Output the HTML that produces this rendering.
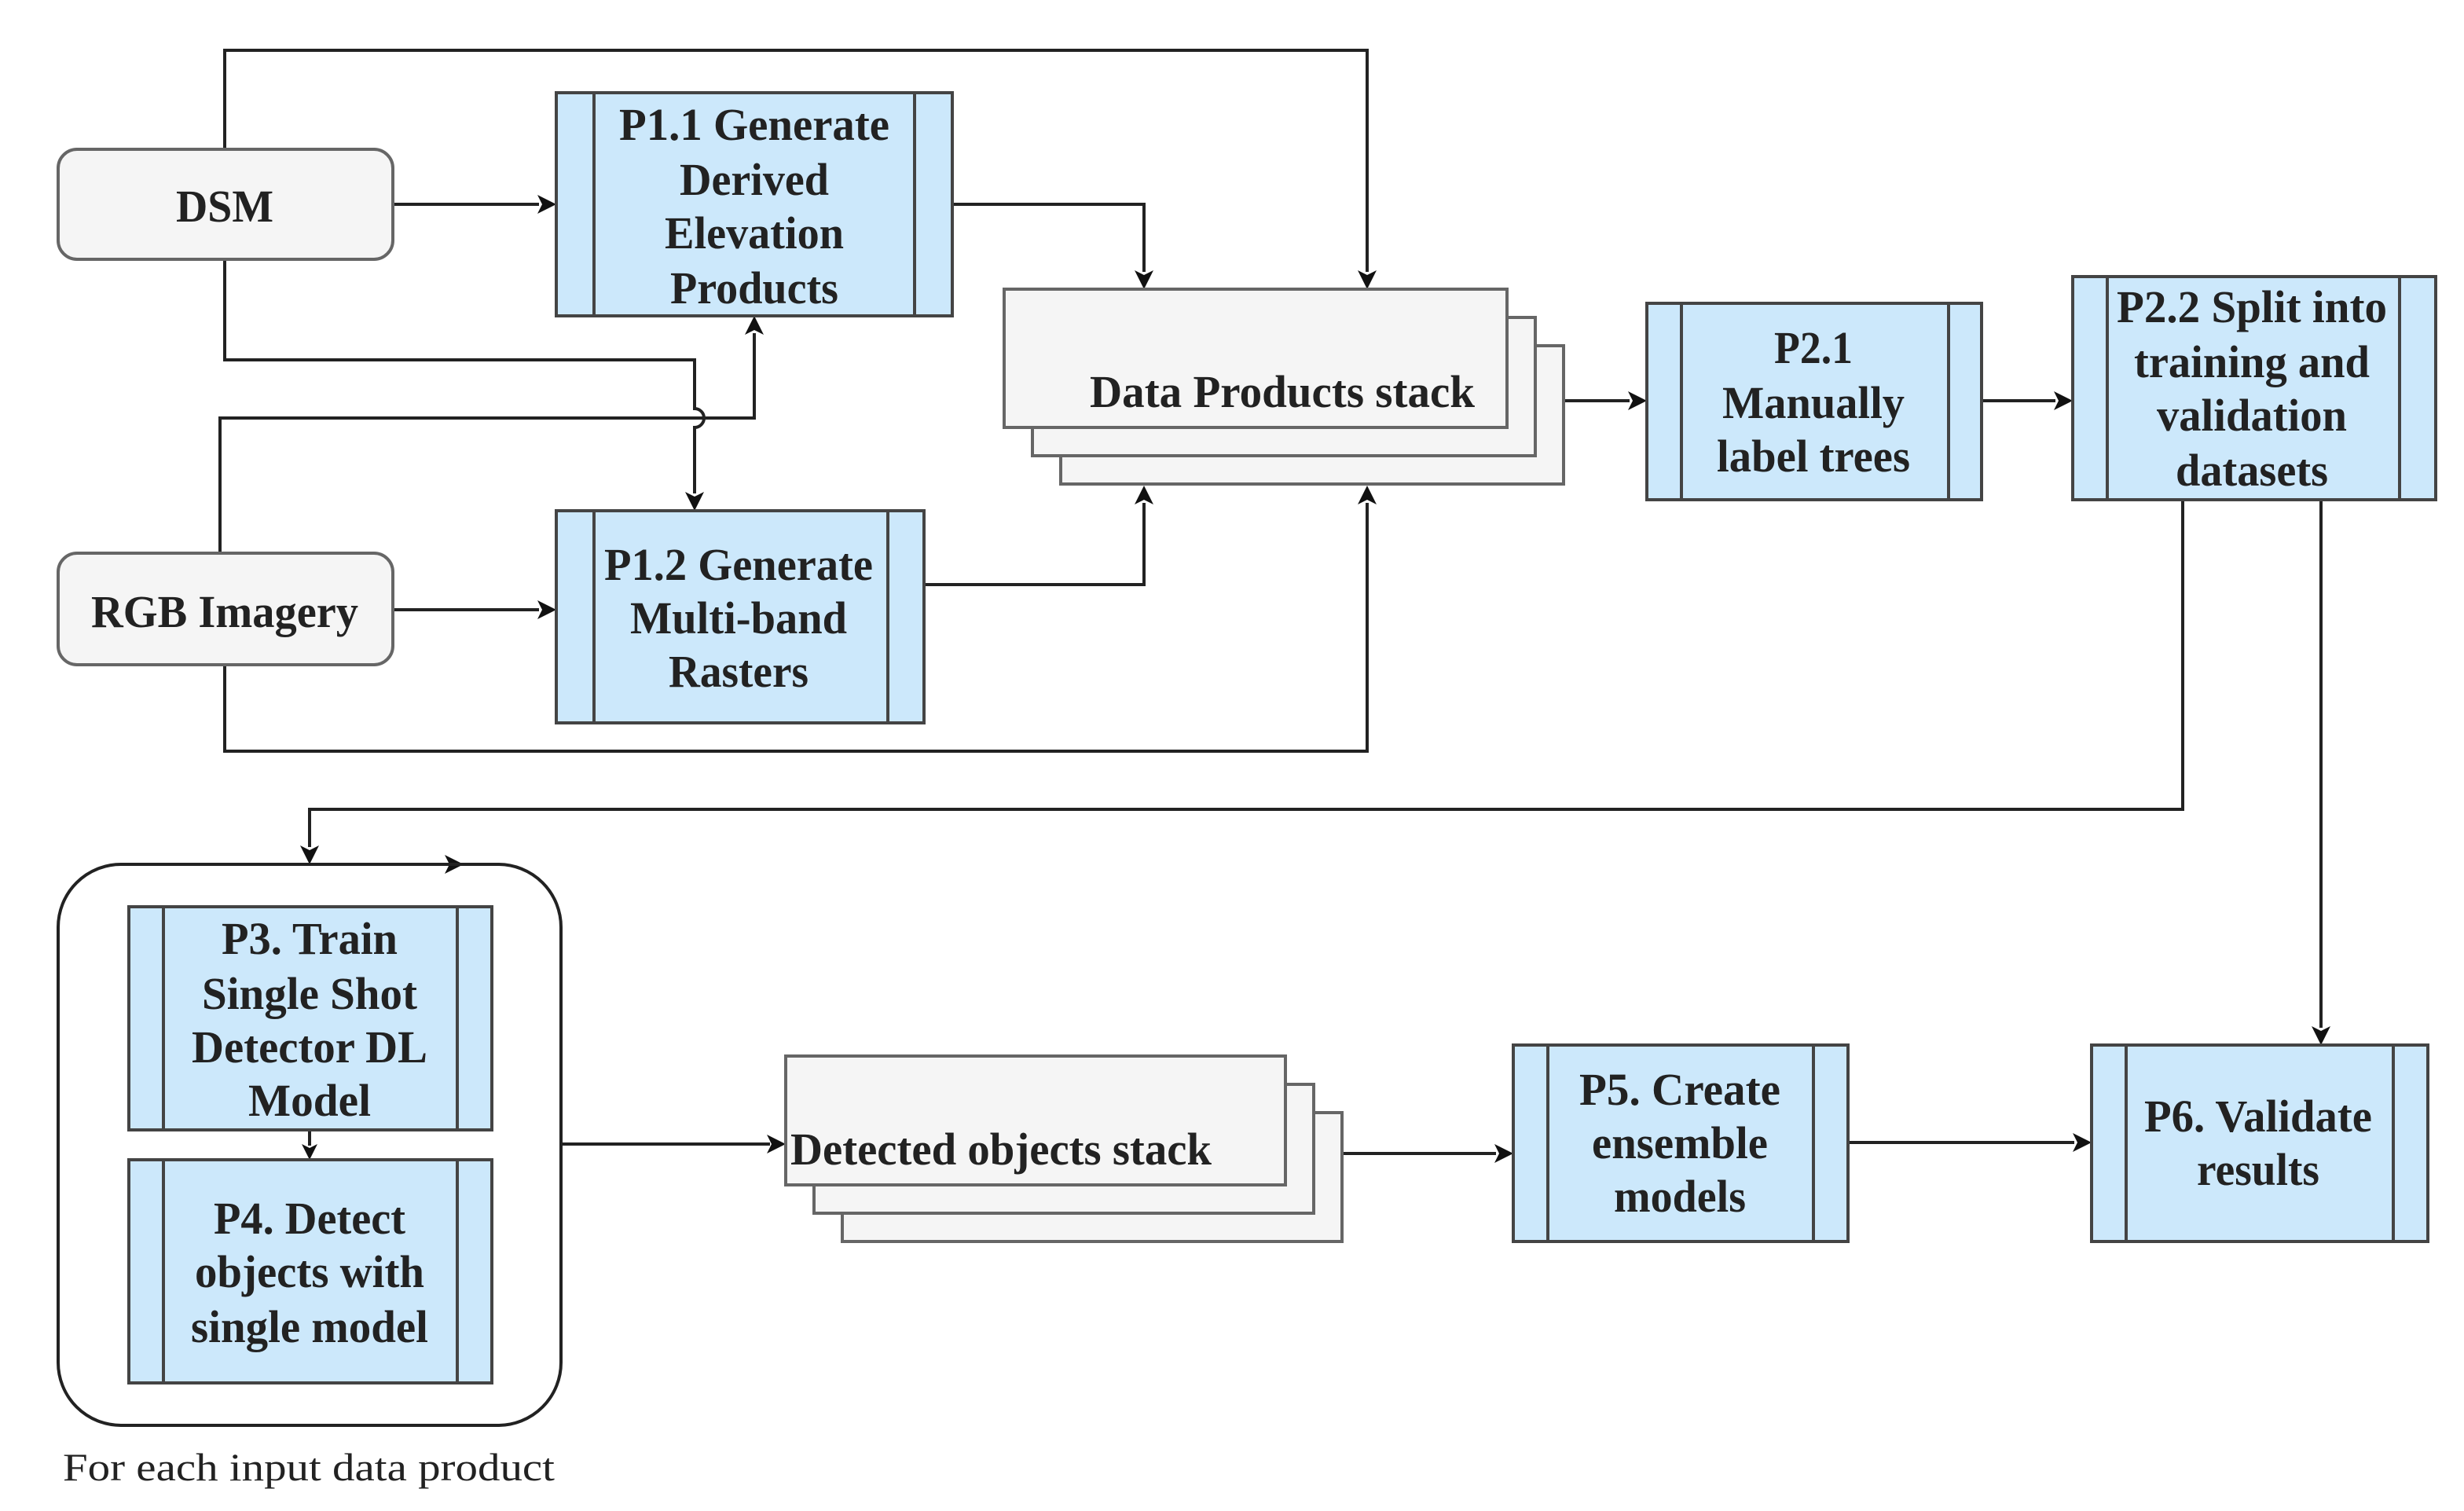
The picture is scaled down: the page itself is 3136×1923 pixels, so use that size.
<!DOCTYPE html>
<html><head><meta charset="utf-8"><style>
html,body{margin:0;padding:0;background:#fff}
svg{display:block}
text{font-family:"Liberation Serif",serif;font-weight:bold;font-size:58px;fill:#222;text-anchor:middle}
</style></head><body>
<svg width="3136" height="1923" viewBox="0 0 3136 1923" xmlns="http://www.w3.org/2000/svg">
<defs>
<marker id="a" markerWidth="10" markerHeight="10" refX="9" refY="5" orient="auto" markerUnits="userSpaceOnUse" viewBox="0 0 10 10">
</marker>
</defs>
<g fill="none" stroke="#222" stroke-width="4">
<!-- top loop DSM -> stack -->
<polyline points="286,190 286,64 1740,64 1740,346"/>
<line x1="500" y1="260" x2="686" y2="260"/>
<polyline points="1212,260 1456,260 1456,346"/>
<path d="M286,330 V458 H884 V520 A12,12 0 0 1 884,544 V628"/>
<polyline points="280,704 280,532 960,532 960,424"/>
<line x1="500" y1="776" x2="686" y2="776"/>
<polyline points="1176,744 1456,744 1456,640"/>
<polyline points="286,846 286,956 1740,956 1740,640"/>
<line x1="1990" y1="510" x2="2074" y2="510"/>
<line x1="2522" y1="510" x2="2616" y2="510"/>
<polyline points="2778,636 2778,1030 394,1030 394,1078"/>
<line x1="2954" y1="636" x2="2954" y2="1308"/>
<line x1="394" y1="1438" x2="394" y2="1458"/>
<line x1="714" y1="1456" x2="980" y2="1456"/>
<line x1="1708" y1="1468" x2="1904" y2="1468"/>
<line x1="2352" y1="1454" x2="2640" y2="1454"/>
</g>
<g fill="#111">
<polygon points="708,260 684,248 690,260 684,272"/>
<polygon points="708,776 684,764 690,776 684,788"/>
<polygon points="1740,368 1728,344 1740,350 1752,344"/>
<polygon points="1456,368 1444,344 1456,350 1468,344"/>
<polygon points="884,650 872,626 884,632 896,626"/>
<polygon points="960,402 948,426 960,420 972,426"/>
<polygon points="1456,618 1444,642 1456,636 1468,642"/>
<polygon points="1740,618 1728,642 1740,636 1752,642"/>
<polygon points="2096,510 2072,498 2078,510 2072,522"/>
<polygon points="2638,510 2614,498 2620,510 2614,522"/>
<polygon points="394,1100 382,1076 394,1082 406,1076"/>
<polygon points="2954,1330 2942,1306 2954,1312 2966,1306"/>
<polygon points="394,1476 384,1456 394,1461 404,1456"/>
<polygon points="1000,1456 976,1444 982,1456 976,1468"/>
<polygon points="1926,1468 1902,1456 1908,1468 1902,1480"/>
<polygon points="2662,1454 2638,1442 2644,1454 2638,1466"/>
<polygon points="590,1100 566,1088 572,1100 566,1112"/>
</g>
<!-- input boxes -->
<g fill="#f5f5f5" stroke="#666" stroke-width="4">
<rect x="74" y="190" width="426" height="140" rx="24"/>
<rect x="74" y="704" width="426" height="142" rx="24"/>
<rect x="1350" y="440" width="640" height="176"/>
<rect x="1314" y="404" width="640" height="176"/>
<rect x="1278" y="368" width="640" height="176"/>
<rect x="1072" y="1416" width="636" height="164"/>
<rect x="1036" y="1380" width="636" height="164"/>
<rect x="1000" y="1344" width="636" height="164"/>
</g>
<rect x="74" y="1100" width="640" height="714" rx="80" fill="none" stroke="#222" stroke-width="4"/>
<g fill="#cce8fb" stroke="#444" stroke-width="4">
<rect x="708" y="118" width="504" height="284"/><line x1="756" y1="118" x2="756" y2="402"/><line x1="1164" y1="118" x2="1164" y2="402"/>
<rect x="708" y="650" width="468" height="270"/><line x1="756" y1="650" x2="756" y2="920"/><line x1="1130" y1="650" x2="1130" y2="920"/>
<rect x="2096" y="386" width="426" height="250"/><line x1="2140" y1="386" x2="2140" y2="636"/><line x1="2480" y1="386" x2="2480" y2="636"/>
<rect x="2638" y="352" width="462" height="284"/><line x1="2682" y1="352" x2="2682" y2="636"/><line x1="3054" y1="352" x2="3054" y2="636"/>
<rect x="164" y="1154" width="462" height="284"/><line x1="208" y1="1154" x2="208" y2="1438"/><line x1="582" y1="1154" x2="582" y2="1438"/>
<rect x="164" y="1476" width="462" height="284"/><line x1="208" y1="1476" x2="208" y2="1760"/><line x1="582" y1="1476" x2="582" y2="1760"/>
<rect x="1926" y="1330" width="426" height="250"/><line x1="1970" y1="1330" x2="1970" y2="1580"/><line x1="2308" y1="1330" x2="2308" y2="1580"/>
<rect x="2662" y="1330" width="428" height="250"/><line x1="2706" y1="1330" x2="2706" y2="1580"/><line x1="3046" y1="1330" x2="3046" y2="1580"/>
</g>
<g lengthAdjust="spacingAndGlyphs">
<text x="286" y="282" textLength="124" lengthAdjust="spacingAndGlyphs">DSM</text>
<text x="286" y="798" textLength="340" lengthAdjust="spacingAndGlyphs">RGB Imagery</text>
<text x="960" y="178" textLength="344" lengthAdjust="spacingAndGlyphs">P1.1 Generate</text>
<text x="960" y="248" textLength="190" lengthAdjust="spacingAndGlyphs">Derived</text>
<text x="960" y="316" textLength="228" lengthAdjust="spacingAndGlyphs">Elevation</text>
<text x="960" y="386" textLength="214" lengthAdjust="spacingAndGlyphs">Products</text>
<text x="940" y="738" textLength="342" lengthAdjust="spacingAndGlyphs">P1.2 Generate</text>
<text x="940" y="806" textLength="276" lengthAdjust="spacingAndGlyphs">Multi-band</text>
<text x="940" y="874" textLength="178" lengthAdjust="spacingAndGlyphs">Rasters</text>
<text x="1632" y="518" textLength="490" lengthAdjust="spacingAndGlyphs">Data Products stack</text>
<text x="2308" y="462" textLength="100" lengthAdjust="spacingAndGlyphs">P2.1</text>
<text x="2308" y="532" textLength="232" lengthAdjust="spacingAndGlyphs">Manually</text>
<text x="2308" y="600" textLength="246" lengthAdjust="spacingAndGlyphs">label trees</text>
<text x="2866" y="410" textLength="344" lengthAdjust="spacingAndGlyphs">P2.2 Split into</text>
<text x="2866" y="480" textLength="300" lengthAdjust="spacingAndGlyphs">training and</text>
<text x="2866" y="548" textLength="242" lengthAdjust="spacingAndGlyphs">validation</text>
<text x="2866" y="618" textLength="194" lengthAdjust="spacingAndGlyphs">datasets</text>
<text x="394" y="1214" textLength="224" lengthAdjust="spacingAndGlyphs">P3. Train</text>
<text x="394" y="1284" textLength="274" lengthAdjust="spacingAndGlyphs">Single Shot</text>
<text x="394" y="1352" textLength="300" lengthAdjust="spacingAndGlyphs">Detector DL</text>
<text x="394" y="1420" textLength="156" lengthAdjust="spacingAndGlyphs">Model</text>
<text x="394" y="1570" textLength="244" lengthAdjust="spacingAndGlyphs">P4. Detect</text>
<text x="394" y="1638" textLength="292" lengthAdjust="spacingAndGlyphs">objects with</text>
<text x="394" y="1708" textLength="302" lengthAdjust="spacingAndGlyphs">single model</text>
<text x="1274" y="1482" textLength="536" lengthAdjust="spacingAndGlyphs">Detected objects stack</text>
<text x="2138" y="1406" textLength="256" lengthAdjust="spacingAndGlyphs">P5. Create</text>
<text x="2138" y="1474" textLength="224" lengthAdjust="spacingAndGlyphs">ensemble</text>
<text x="2138" y="1542" textLength="168" lengthAdjust="spacingAndGlyphs">models</text>
<text x="2874" y="1440" textLength="290" lengthAdjust="spacingAndGlyphs">P6. Validate</text>
<text x="2874" y="1508" textLength="156" lengthAdjust="spacingAndGlyphs">results</text>
<text x="393" y="1884" textLength="626" lengthAdjust="spacingAndGlyphs" style="font-weight:normal;font-size:50px">For each input data product</text>
</g>
</svg>
</body></html>
